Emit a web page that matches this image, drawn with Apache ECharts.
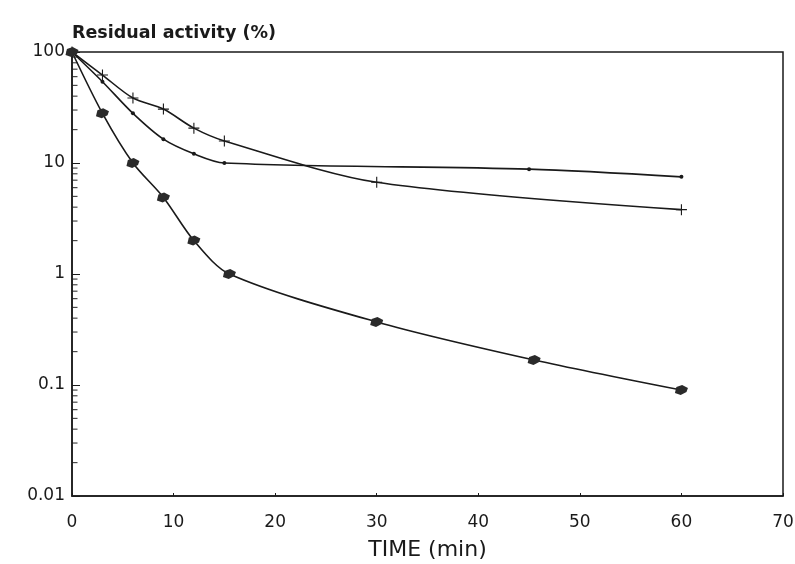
<!DOCTYPE html>
<html><head><meta charset="utf-8">
<script src="https://cdn.jsdelivr.net/npm/echarts@6/dist/echarts.min.js"></script>
<style>html,body{margin:0;padding:0;background:#fff}#c{width:795px;height:564px}</style>
</head><body><div id="c"></div>
<script>
// Series A (crosses)
const timeA = [0, 3, 6, 9, 12, 15, 30, 60];
const valA  = [100, 62, 38.5, 30.6, 20.6, 15.8, 6.7, 3.8];
// Series B (dots)
const timeB = [0, 3, 6, 9, 12, 15, 45, 60];
const valB  = [100, 54, 28, 16.4, 12.1, 10, 8.8, 7.5];
// Series C (filled blots)
const timeC = [0, 3, 6, 9, 12, 15.5, 30, 45.5, 60];
const valC  = [100, 28, 10, 4.9, 2.0, 1.0, 0.37, 0.168, 0.09];
// axis tick labels
const yTickLabels = ['0.01', '0.1', '1', '10', '100'];
const xTickLabels = ['0', '10', '20', '30', '40', '50', '60', '70'];
const minorMult = [2, 3, 4, 5, 6, 7, 8, 9];
const decades = [0.01, 0.1, 1, 10];

const pairs = (t, v) => t.map((x, i) => [x, v[i]]);
const minorTicks = [];
decades.forEach(d => minorMult.forEach(m => minorTicks.push([0, +(d * m).toPrecision(3)])));

const ink = '#1a1a1a';
const chart = echarts.init(document.getElementById('c'));
chart.setOption({
  backgroundColor: '#fff',
  animation: false,
  grid: { left: 72, top: 52, right: 12, bottom: 68, show: true, borderColor: ink, borderWidth: 1.5,
    backgroundColor: 'transparent', containLabel: false, outerBoundsMode: 'none' },
  xAxis: {
    type: 'value', min: 0, max: 70, interval: 10,
    name: 'TIME (min)', nameLocation: 'middle', nameGap: 43,
    nameTextStyle: { fontFamily: 'DejaVu Sans', fontSize: 22, color: ink },
    axisLine: { lineStyle: { color: ink, width: 1.5 } },
    axisTick: { inside: true, length: 3, lineStyle: { color: ink } },
    axisLabel: { fontFamily: 'DejaVu Sans', fontSize: 17, color: ink, margin: 18,
      formatter: v => xTickLabels[Math.round(v / 10)] },
    splitLine: { show: false }
  },
  yAxis: {
    type: 'log', min: 0.01, max: 100, logBase: 10,
    name: 'Residual activity (%)', nameLocation: 'end', nameGap: 10,
    nameTextStyle: { fontFamily: 'DejaVu Sans', fontSize: 17.5, fontWeight: 'bold', color: ink, align: 'left' },
    axisLine: { lineStyle: { color: ink, width: 1.5 } },
    axisTick: { inside: true, length: 8, lineStyle: { color: ink } },
    axisLabel: { fontFamily: 'DejaVu Sans', fontSize: 17, color: ink, margin: 7,
      formatter: v => { const i = Math.round(Math.log10(v)) + 2; return yTickLabels[i]; } },
    splitLine: { show: false }
  },
  series: [
    { type: 'line', data: pairs(timeA, valA), smooth: 0.3, symbol: 'path://M0,4.5 L10,4.5 L10,5.5 L0,5.5 Z M4.5,0 L5.5,0 L5.5,10 L4.5,10 Z', symbolSize: 11,
      itemStyle: { color: ink }, lineStyle: { color: ink, width: 1.6 } },
    { type: 'line', data: pairs(timeB, valB), smooth: 0.3, symbol: 'circle', symbolSize: 4,
      itemStyle: { color: ink }, lineStyle: { color: ink, width: 1.6 } },
    { type: 'line', data: pairs(timeC, valC), smooth: 0.3, symbol: 'path://M2,2 L6,0 L10,3 L9,7 L5,10 L1,8 Z', symbolSize: [13, 10],
      itemStyle: { color: '#2a2a2a' }, lineStyle: { color: ink, width: 1.6 } },
    { type: 'scatter', data: minorTicks, symbol: 'rect', symbolSize: [5, 1.2], symbolOffset: [3, 0],
      itemStyle: { color: ink }, silent: true, z: 1 }
  ]
});
</script></body></html>
